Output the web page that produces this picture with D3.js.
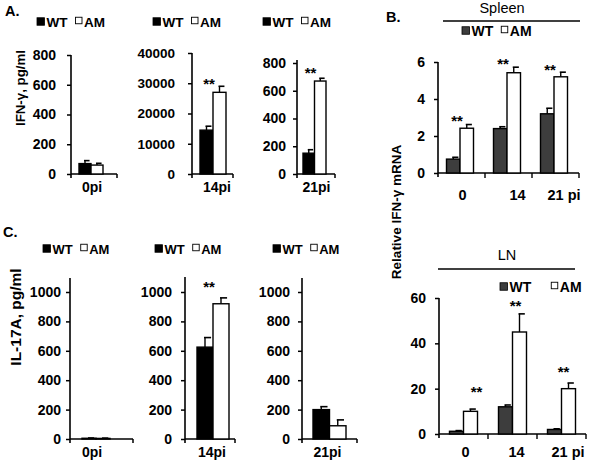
<!DOCTYPE html>
<html><head><meta charset="utf-8">
<script src="https://cdn.jsdelivr.net/npm/d3@7"></script>
<style>
html,body{margin:0;padding:0;background:#fff;}
svg{display:block;}
text{font-family:"Liberation Sans",Arial,sans-serif;}
</style></head>
<body>
<svg id="chart" width="600" height="461"></svg>
<script>
// ---------------- DATA ----------------
const series = ["WT", "AM"];

// Panel A: IFN-γ ELISA
const aDays = ["0pi", "14pi", "21pi"];
const aWT = [70, 14500, 150];
const aWTErr = [20, 1300, 25];
const aAM = [60, 27000, 670];
const aAMErr = [12, 2000, 20];
const aTicks = [[0, 200, 400, 600, 800], [0, 10000, 20000, 30000, 40000], [0, 200, 400, 600, 800]];
const aStars = [null, 31000, 750];

// Panel C: IL-17A ELISA
const cDays = ["0pi", "14pi", "21pi"];
const cWT = [5, 625, 200];
const cWTErr = [2, 65, 20];
const cAM = [4, 920, 90];
const cAMErr = [2, 40, 40];
const cTicks = [0, 200, 400, 600, 800, 1000];
const cStars = [null, 1060, null];

// Panel B: Relative IFN-γ mRNA
const bDays = ["0", "14", "21 pi"];
const spleenWT = [0.75, 2.4, 3.2];
const spleenWTErr = [0.1, 0.1, 0.3];
const spleenAM = [2.42, 5.42, 5.2];
const spleenAMErr = [0.2, 0.3, 0.25];
const spleenStars = [3.0, 6.1, 5.75];
const spleenTicks = [0, 2, 4, 6];

const lnWT = [1.2, 12, 2];
const lnWTErr = [0.3, 0.8, 0.3];
const lnAM = [10, 45, 20];
const lnAMErr = [1, 8, 2.5];
const lnStars = [20.3, 58.2, 29];
const lnTicks = [0, 20, 40, 60];

// ---------------- DRAW ----------------
const svg = d3.select("#chart");
const BOLD = "bold";
const fmt = d3.format("d");

function legend(g, x, yc, fs, wtFill, gap) {
  const sq = 7.5;
  g.append("rect").attr("x", x).attr("y", yc - sq / 2 - 0.5).attr("width", sq).attr("height", sq)
    .attr("fill", wtFill).attr("stroke", "#000").attr("stroke-width", 0.8);
  const t1 = g.append("text").attr("x", x + sq + 2).attr("y", yc + fs * 0.36)
    .attr("font-size", fs).attr("font-weight", BOLD).text(series[0]);
  const w1 = t1.node().getComputedTextLength();
  const x2 = x + sq + 2 + w1 + gap;
  g.append("rect").attr("x", x2).attr("y", yc - sq / 2 - 1).attr("width", sq - 1).attr("height", sq - 1)
    .attr("fill", "#fff").attr("stroke", "#000").attr("stroke-width", 0.9);
  g.append("text").attr("x", x2 + sq + 1).attr("y", yc + fs * 0.36)
    .attr("font-size", fs).attr("font-weight", BOLD).text(series[1]);
}

function yAxis(g, y, ticks, axisX, topPx, pad, fs) {
  const ax = d3.axisLeft(y).tickValues(ticks).tickFormat(fmt).tickSize(4).tickPadding(pad).tickSizeOuter(0);
  const ag = g.append("g").attr("transform", `translate(${axisX},0)`).call(ax);
  ag.select(".domain").remove();
  ag.selectAll(".tick line").attr("stroke", "#000").attr("stroke-width", 1.5);
  ag.selectAll(".tick text").attr("font-size", fs).attr("font-weight", BOLD)
    .attr("font-family", '"Liberation Sans",Arial,sans-serif').attr("fill", "#000");
  g.append("line").attr("x1", axisX).attr("x2", axisX).attr("y1", topPx).attr("y2", y(0) + 4)
    .attr("stroke", "#000").attr("stroke-width", 1.6);
}

function bar(g, x, w, y, v, err, fill) {
  const cx = x + w / 2;
  const top = y(v);
  if (err > 0) {
    g.append("line").attr("x1", cx).attr("x2", cx).attr("y1", top).attr("y2", y(v + err))
      .attr("stroke", "#000").attr("stroke-width", 1.4);
    g.append("line").attr("x1", cx - 1).attr("x2", cx + w * 0.38).attr("y1", y(v + err)).attr("y2", y(v + err))
      .attr("stroke", "#000").attr("stroke-width", 1.6);
  }
  g.append("rect").attr("x", x).attr("y", top).attr("width", w).attr("height", Math.max(0.6, y(0) - top))
    .attr("fill", fill).attr("stroke", "#000").attr("stroke-width", 1.4);
}

function star(g, x, yv, fs) {
  g.append("text").attr("x", x).attr("y", yv + fs * 0.57).attr("text-anchor", "middle")
    .attr("font-size", fs).attr("font-weight", BOLD).text("**");
}

// Single-day panels (A and C)
function singlePanel(L, day, wt, wtE, am, amE, ticks, yMax, starV) {
  const g = svg.append("g");
  const y = d3.scaleLinear().domain([0, yMax]).range([L.y0, L.yMaxPx]);
  const x = d3.scaleBand().domain(series).range([L.barX, L.barX + 2 * L.barW]).padding(0);
  yAxis(g, y, ticks, L.axisX, L.axisTop, L.pad, L.fs);
  g.append("line").attr("x1", L.axisX).attr("x2", L.xEnd).attr("y1", L.y0).attr("y2", L.y0)
    .attr("stroke", "#000").attr("stroke-width", 1.6);
  g.append("line").attr("x1", L.xEnd).attr("x2", L.xEnd).attr("y1", L.y0).attr("y2", L.y0 + 4)
    .attr("stroke", "#000").attr("stroke-width", 1.5);
  bar(g, x("WT"), x.bandwidth(), y, wt, wtE, "#000");
  bar(g, x("AM"), x.bandwidth(), y, am, amE, "#fff");
  if (starV != null) star(g, x("AM") - 4, y(starV), 15);
  g.append("text").attr("x", L.barX + L.barW + L.lblDx).attr("y", L.lblY).attr("text-anchor", "middle")
    .attr("font-size", 14).attr("font-weight", BOLD).text(day);
  legend(g, L.legX, L.legY, L.legFs, "#000", 8);
}

const aLayout = [
  {axisX: 71, xEnd: 117, y0: 174, yMaxPx: 55, axisTop: 55, barX: 79, barW: 12, pad: 11, fs: 14, lblDx: 1, lblY: 192, legX: 37, legY: 22, legFs: 13.5},
  {axisX: 192, xEnd: 233, y0: 174, yMaxPx: 53, axisTop: 53, barX: 200, barW: 13, pad: 13, fs: 13.5, lblDx: 4, lblY: 192, legX: 153, legY: 22, legFs: 13.5},
  {axisX: 297, xEnd: 335, y0: 174, yMaxPx: 63, axisTop: 60, barX: 303, barW: 11.5, pad: 7, fs: 14, lblDx: 2, lblY: 192, legX: 263, legY: 22, legFs: 13.5}
];
aDays.forEach((d, i) => singlePanel(aLayout[i], d, aWT[i], aWTErr[i], aAM[i], aAMErr[i], aTicks[i], aTicks[i][aTicks[i].length - 1], aStars[i]));

const cLayout = [
  {axisX: 70, xEnd: 133, y0: 439, yMaxPx: 292, axisTop: 278, barX: 82, barW: 14, pad: 5, fs: 14, lblDx: -4, lblY: 457, legX: 43, legY: 249, legFs: 13},
  {axisX: 185, xEnd: 235, y0: 439, yMaxPx: 292, axisTop: 277, barX: 197, barW: 16, pad: 9, fs: 14, lblDx: -1, lblY: 457, legX: 155, legY: 249, legFs: 13},
  {axisX: 302, xEnd: 357, y0: 439, yMaxPx: 292, axisTop: 278, barX: 313, barW: 16.5, pad: 8, fs: 14, lblDx: -2, lblY: 457, legX: 273, legY: 249, legFs: 13}
];
cDays.forEach((d, i) => singlePanel(cLayout[i], d, cWT[i], cWTErr[i], cAM[i], cAMErr[i], cTicks, 1000, cStars[i]));

// Grouped panels (B)
function groupPanel(L, title, wt, wtE, am, amE, ticks, stars) {
  const g = svg.append("g");
  const y = d3.scaleLinear().domain([0, ticks[ticks.length - 1]]).range([L.y0, L.yMaxPx]);
  const x = d3.scaleBand().domain(bDays).range([L.axisX, L.xEnd]).padding(0);
  const bw = x.bandwidth();
  const sub = d3.scaleBand().domain(series).range([bw / 2 - L.barW + L.barDx, bw / 2 + L.barW + L.barDx]).padding(0);
  yAxis(g, y, ticks, L.axisX, L.yMaxPx, L.pad, 14);
  g.append("line").attr("x1", L.axisX).attr("x2", L.xEnd).attr("y1", L.y0).attr("y2", L.y0)
    .attr("stroke", "#000").attr("stroke-width", 1.6);
  bDays.forEach(d => {
    g.append("line").attr("x1", x(d) + bw).attr("x2", x(d) + bw).attr("y1", L.y0).attr("y2", L.y0 + 5)
      .attr("stroke", "#000").attr("stroke-width", 1.4);
  });
  bDays.forEach((d, i) => {
    bar(g, x(d) + sub("WT"), sub.bandwidth(), y, wt[i], wtE[i], "#3d3d3d");
    bar(g, x(d) + sub("AM"), sub.bandwidth(), y, am[i], amE[i], "#fff");
    star(g, x(d) + sub("AM") + L.starDx[i], y(stars[i]), 15);
    g.append("text").attr("x", x(d) + bw / 2 + L.lblDx[i]).attr("y", L.lblY)
      .attr("text-anchor", i === 2 ? "start" : "middle")
      .attr("font-size", 14.5).attr("font-weight", BOLD).text(d);
  });
  g.append("text").attr("x", L.titleX).attr("y", L.titleY).attr("text-anchor", "middle")
    .attr("font-size", 14.5).text(title);
  g.append("line").attr("x1", L.ruleX1).attr("x2", L.ruleX2).attr("y1", L.ruleY).attr("y2", L.ruleY)
    .attr("stroke", "#000").attr("stroke-width", 1.6);
  legend(g, L.legX, L.legY, 14, "#3d3d3d", L.legGap);
}

groupPanel({axisX: 438, xEnd: 579, y0: 173, yMaxPx: 62, barW: 13.5, barDx: -1.5, pad: 9,
  lblDx: [1, 9, -8], lblY: 200, starDx: [-3, -4, -4],
  titleX: 502, titleY: 13, ruleX1: 443, ruleX2: 580, ruleY: 21, legX: 462, legY: 31, legGap: 8},
  "Spleen", spleenWT, spleenWTErr, spleenAM, spleenAMErr, spleenTicks, spleenStars);

groupPanel({axisX: 439, xEnd: 586, y0: 434, yMaxPx: 298, barW: 14, barDx: 0, pad: 9,
  lblDx: [2, 4, -10], lblY: 457, starDx: [13, 3, 2],
  titleX: 507, titleY: 260, ruleX1: 438, ruleX2: 575, ruleY: 269, legX: 500, legY: 287, legGap: 20},
  "LN", lnWT, lnWTErr, lnAM, lnAMErr, lnTicks, lnStars);

// Axis titles
function vLabel(x, y, txt, fs, weight) {
  svg.append("text").attr("transform", `translate(${x},${y}) rotate(-90)`).attr("text-anchor", "middle")
    .attr("font-size", fs).attr("font-weight", weight).text(txt);
}
vLabel(25, 88, "IFN-γ, pg/ml", 13.3, "bold");
vLabel(21, 317, "IL-17A, pg/ml", 15.5, "bold");
vLabel(401, 212, "Relative IFN-γ mRNA", 13.5, "bold");

// Panel letters
[["A.", 5, 16], ["B.", 386, 22], ["C.", 3, 237]].forEach(([t, x, y]) => {
  svg.append("text").attr("x", x).attr("y", y).attr("font-size", 14.5).attr("font-weight", BOLD).text(t);
});
</script>
</body></html>
